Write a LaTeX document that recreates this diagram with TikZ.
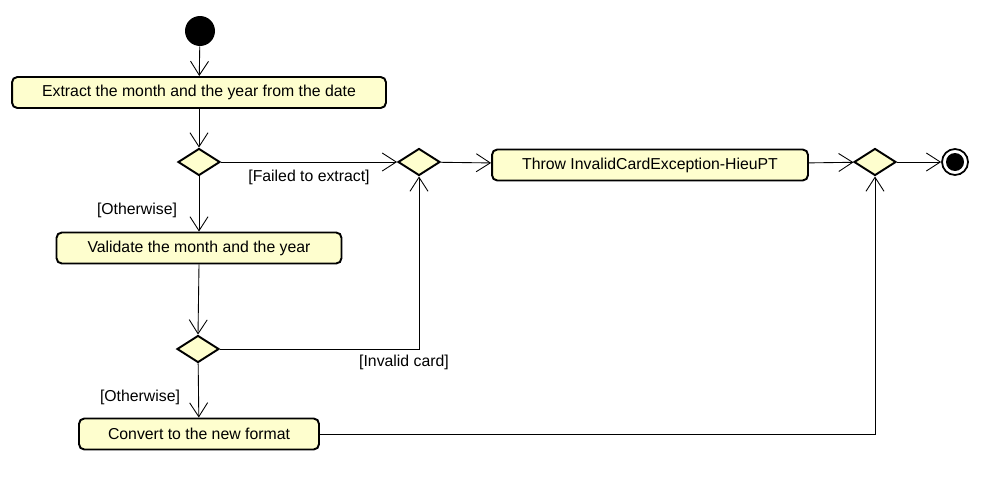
\documentclass[tikz,border=0pt]{standalone}
\usepackage{fontspec}
\setmainfont{Liberation Sans}
\usetikzlibrary{shapes.geometric,arrows.meta}
\definecolor{actfill}{HTML}{FEFECE}

\begin{document}
\begin{tikzpicture}[x=0.02cm,y=-0.02cm,
    font=\fontsize{9}{10.8}\selectfont,
    action/.style={draw,line width=1.1pt,fill=actfill,rounded corners=3pt,minimum height=0.62cm,inner sep=0pt},
    decision/.style={draw,diamond,line width=1.1pt,fill=actfill,minimum width=0.84cm,minimum height=0.54cm,inner sep=0pt},
    flow/.style={-{Straight Barb[length=2.8mm,width=3.6mm]},line width=0.5pt},
    guard/.style={inner sep=1pt}]
    \useasboundingbox (0,0) rectangle (983,497);

    % Start and end
    \node[circle,fill=black,minimum size=0.6cm,inner sep=0pt] (start) at (200,31) {};
    \node[circle,draw,line width=1pt,fill=white,minimum size=0.52cm,inner sep=0pt] (stop) at (955,162) {};
    \fill (stop.center) circle (0.18cm);

    % Actions
    \node[action,minimum width=7.48cm] (extract) at (199,92.5) {Extract the month and the year from the date};
    \node[action,minimum width=5.7cm] (validate) at (199,248) {Validate the month and the year};
    \node[action,minimum width=4.8cm] (convert) at (199,434) {Convert to the new format};
    \node[action,minimum width=6.32cm] (throw) at (650,165) {Throw InvalidCardException-HieuPT};

    % Decisions
    \node[decision] (d1) at (199,162) {};
    \node[decision] (d2) at (419,162) {};
    \node[decision] (d3) at (875,162) {};
    \node[decision] (d4) at (198,349) {};

    % Guards
    \node[guard] (gfail) at (309,177) {[Failed to extract]};
    \node[guard] (gother1) at (137,210) {[Otherwise]};
    \node[guard] (ginvalid) at (404,362) {[Invalid card]};
    \node[guard] (gother2) at (140,397) {[Otherwise]};

    % Flows
    \draw[flow] (start) -- (extract);
    \draw[flow] (extract) -- (d1);
    \draw[flow] (d1) -- (d2);
    \draw[flow] (d1) -- (validate);
    \draw[flow] (validate.south) -- (d4.north);
    \draw[flow] (d4) -- (convert);
    \draw[flow] (d4.east) -| (d2.south);
    \draw[flow] (d2) -- (throw);
    \draw[flow] (throw) -- (d3);
    \draw[flow] (convert.east) -| (d3.south);
    \draw[flow] (d3) -- (stop);
\end{tikzpicture}
\end{document}
